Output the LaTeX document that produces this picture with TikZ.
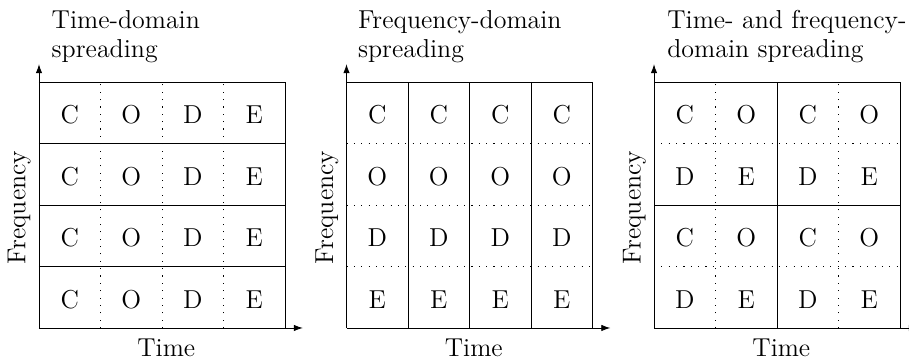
\documentclass[tikz,border=0pt]{standalone}
\usetikzlibrary{arrows.meta}
\newcommand{\figsize}{\fontsize{12}{13.4}\selectfont}

\begin{document}
\begin{tikzpicture}[>={Latex[length=4.2pt,width=3pt]},
        cell/.style={anchor=base,inner sep=0pt,font=\figsize},
        title/.style={anchor=north west,align=left,inner sep=0pt,font=\figsize},
        axlab/.style={inner sep=0pt,font=\figsize},
        dots/.style={dash pattern=on 0.5pt off 2.9pt}]
      \useasboundingbox (-0.634,-0.585) rectangle (14.146,5.333);
      % titles
      \node[title] (t1) at (0.2,5.17) {Time-domain\\spreading};
      \node[title] (t2) at (5.18,5.17) {Frequency-domain\\spreading};
      \node[title] (t3) at (10.21,5.17) {Time- and frequency-\\domain spreading};
      % axes and labels
      \foreach \p/\n in {0/1,5/2,10/3} {
        \coordinate (o\n) at (\p,0);
        \coordinate (xe\n) at (\p+4.29,0);
        \coordinate (ye\n) at (\p,4.29);
        \draw[->] (o\n) -- (xe\n);
        \draw[->] (o\n) -- (ye\n);
        \draw (\p,4) -- (\p+4,4) -- (\p+4,0);
        \node[axlab,rotate=90] (f\n) at (\p-0.32,1.96) {Frequency};
        \node[axlab,anchor=base] (tm\n) at (\p+2.07,-0.47) {Time};
      }
      % time-domain spreading
      \foreach \y in {1,2,3} \draw (0,\y) -- (4,\y);
      \foreach \x in {1,2,3} \draw[dots] (\x,0) -- (\x,4);
      \foreach \c/\l in {1/C,2/O,3/D,4/E}
        \foreach \r in {1,...,4}
          \node[cell] (a\r\c) at (\c-0.5,\r-0.68) {\l};
      % frequency-domain spreading
      \foreach \x in {6,7,8} \draw (\x,0) -- (\x,4);
      \foreach \y in {1,2,3} \draw[dots] (5,\y) -- (9,\y);
      \foreach \r/\l in {4/C,3/O,2/D,1/E}
        \foreach \c in {1,...,4}
          \node[cell] (b\r\c) at (4.5+\c,\r-0.68) {\l};
      % time- and frequency-domain spreading
      \draw (12,0) -- (12,4);
      \draw (10,2) -- (14,2);
      \foreach \x in {11,13} \draw[dots] (\x,0) -- (\x,4);
      \foreach \y in {1,3} \draw[dots] (10,\y) -- (14,\y);
      \foreach \r/\la/\lb in {4/C/O,3/D/E,2/C/O,1/D/E}
        \foreach \c/\l in {1/\la,2/\lb,3/\la,4/\lb}
          \node[cell] (c\r\c) at (9.5+\c,\r-0.68) {\l};
    \end{tikzpicture}
\end{document}
